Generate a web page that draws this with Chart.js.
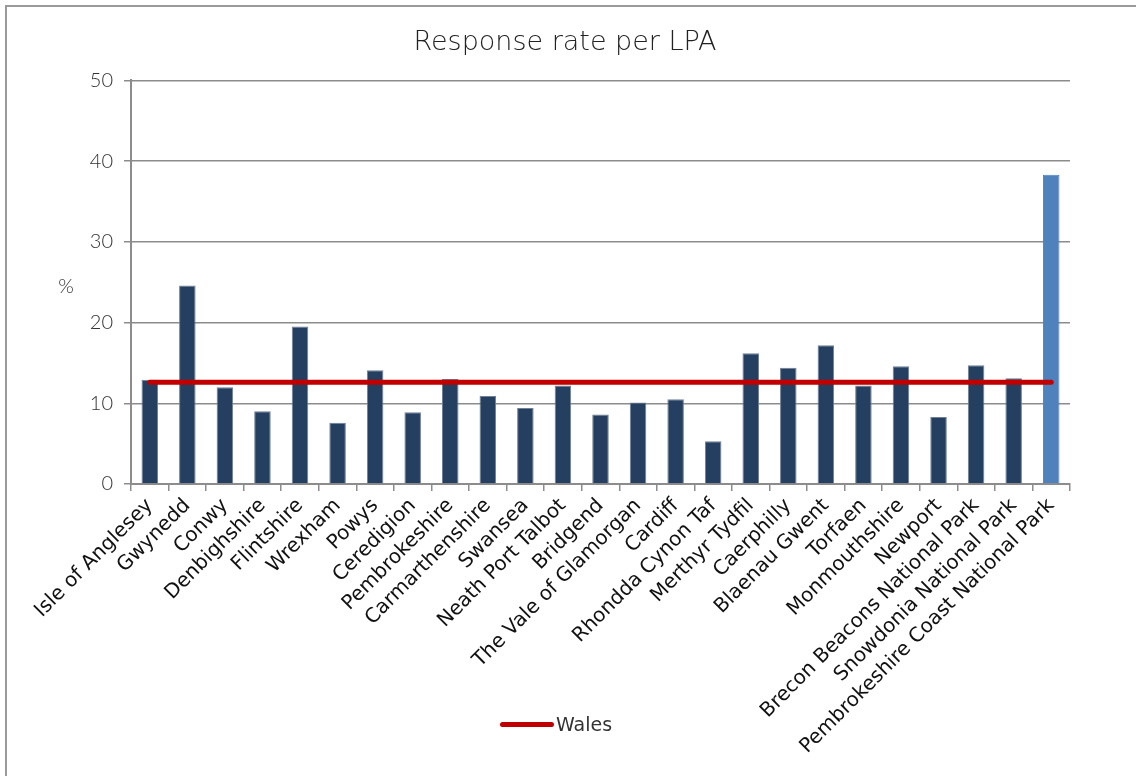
<!DOCTYPE html>
<html>
<head>
<meta charset="utf-8">
<script src="https://cdn.jsdelivr.net/npm/chart.js@4/dist/chart.umd.min.js"></script>
<style>
  html, body { margin: 0; padding: 0; background: #fff; overflow: hidden; }
  #wrap { position: relative; width: 1136px; height: 776px; }
  #legend {
    position: absolute; left: 500px; top: 713px;
    display: flex; align-items: center;
    font-family: "DejaVu Sans", sans-serif; font-size: 19px; color: #333;
  }
  #legend .swatch { width: 54px; height: 5px; border-radius: 3px; margin-right: 2px; }
</style>
</head>
<body>
<div id="wrap">
  <canvas id="chart" width="1136" height="776"></canvas>
  <div id="legend"></div>
</div>
<script>
(function () {
    "use strict";

    const categories = [
        "Isle of Anglesey", "Gwynedd", "Conwy", "Denbighshire", "Flintshire",
        "Wrexham", "Powys", "Ceredigion", "Pembrokeshire", "Carmarthenshire",
        "Swansea", "Neath Port Talbot", "Bridgend", "The Vale of Glamorgan",
        "Cardiff", "Rhondda Cynon Taf", "Merthyr Tydfil", "Caerphilly",
        "Blaenau Gwent", "Torfaen", "Monmouthshire", "Newport",
        "Brecon Beacons National Park", "Snowdonia National Park",
        "Pembrokeshire Coast National Park"
    ];
    const responseRate = [
        12.9, 24.6, 12.0, 9.0, 19.5, 7.6, 14.1, 8.9, 13.0, 10.9,
        9.4, 12.2, 8.6, 10.1, 10.5, 5.3, 16.2, 14.4, 17.2, 12.2,
        14.6, 8.3, 14.7, 13.1, 38.3
    ];
    const walesRate = [
        12.6, 12.6, 12.6, 12.6, 12.6, 12.6, 12.6, 12.6, 12.6, 12.6,
        12.6, 12.6, 12.6, 12.6, 12.6, 12.6, 12.6, 12.6, 12.6, 12.6,
        12.6, 12.6, 12.6, 12.6, 12.6
    ];
    const yTicks = [0, 10, 20, 30, 40, 50];

    const navy = "#243f60";
    const lightBlue = "#4f81bd";
    const red = "#c00000";
    const gridGray = "#8c8c8c";

    const barColors = categories.map((c, i) => i === categories.length - 1 ? lightBlue : navy);
    const barBorders = categories.map((c, i) => i === categories.length - 1 ? lightBlue : "#6f7f95");

    // frame + "%" axis label
    const extras = {
        id: "extras",
        beforeDraw(chart) {
            const ctx = chart.ctx;
            ctx.save();
            ctx.strokeStyle = "#9a9a9a";
            ctx.lineWidth = 2;
            ctx.strokeRect(6, 6, 1400, 1000);
            ctx.fillStyle = "#333";
            ctx.font = "300 20px Lato, 'DejaVu Sans', sans-serif";
            ctx.textAlign = "center";
            ctx.textBaseline = "middle";
            ctx.fillText("%", 66, chart.scales.y.getPixelForValue(24.5));
            ctx.restore();
        }
    };

    const ctx = document.getElementById("chart").getContext("2d");
    const chart = new Chart(ctx, {
        type: "bar",
        data: {
            labels: categories,
            datasets: [
                {
                    type: "line",
                    label: "Wales",
                    data: walesRate,
                    borderColor: red,
                    backgroundColor: red,
                    borderWidth: 5,
                    borderCapStyle: "round",
                    pointRadius: 0,
                    order: 0,
                },
                {
                    label: "Response rate",
                    data: responseRate,
                    backgroundColor: barColors,
                    borderColor: barBorders,
                    borderWidth: 1,
                    categoryPercentage: 1,
                    barPercentage: 0.44,
                    order: 1,
                },
            ],
        },
        options: {
            responsive: false,
            animation: false,
            layout: { padding: { left: 60, right: 66, top: 0, bottom: 0 } },
            plugins: {
                legend: { display: false },
                tooltip: { enabled: false },
                title: {
                    display: true,
                    text: "Response rate per LPA",
                    color: "#222",
                    font: { family: "'DejaVu Sans', sans-serif", size: 27, weight: 200 },
                    padding: { top: 27, bottom: 21 },
                },
            },
            scales: {
                x: {
                    offset: true,
                    grid: {
                        offset: true,
                        drawOnChartArea: false,
                        drawTicks: true,
                        tickLength: 7,
                        color: gridGray,
                        lineWidth: 1.5,
                    },
                    border: { color: gridGray, width: 2 },
                    ticks: {
                        autoSkip: false,
                        minRotation: 45,
                        maxRotation: 45,
                        padding: 3,
                        color: "#111",
                        font: { family: "'DejaVu Sans', sans-serif", size: 20 },
                    },
                    afterFit(scale) { scale.height = 292; },
                },
                y: {
                    min: 0,
                    max: 50,
                    afterBuildTicks(scale) { scale.ticks = yTicks.map(v => ({ value: v })); },
                    grid: {
                        color: gridGray,
                        lineWidth: 1.5,
                        tickLength: 7,
                    },
                    border: { color: gridGray, width: 2 },
                    ticks: {
                        padding: 11,
                        color: "#333",
                        font: { family: "Lato, 'DejaVu Sans', sans-serif", size: 20, weight: 300 },
                    },
                    afterFit(scale) { scale.width = 71; },
                },
            },
        },
        plugins: [extras],
    });

    // HTML legend for the Wales line only
    const legendEl = document.getElementById("legend");
    const ds = chart.data.datasets[0];
    legendEl.innerHTML = '<span class="swatch" style="background:' + ds.borderColor + '"></span><span>' + ds.label + '</span>';
})();
</script>
</body>
</html>
